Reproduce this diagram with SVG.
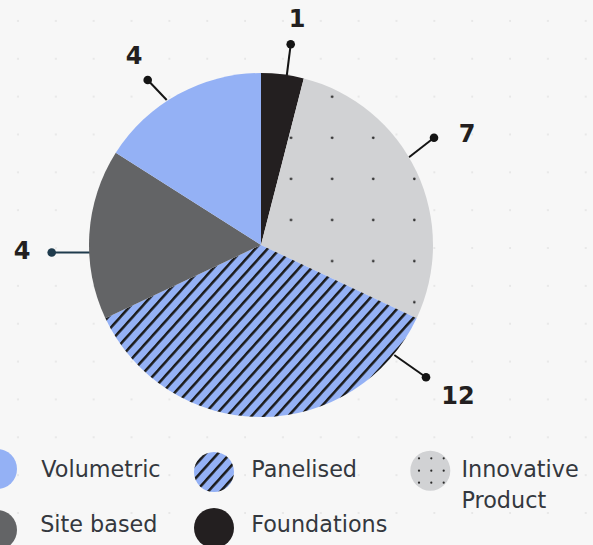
<svg xmlns="http://www.w3.org/2000/svg" width="593" height="545" viewBox="0 0 593 545">
  <defs>
    <pattern id="grid" patternUnits="userSpaceOnUse" x="0" y="0" width="37.85" height="37.85">
      <circle cx="18" cy="21" r="1" fill="#e3e3e3"/>
    </pattern>
    <pattern id="hatch" patternUnits="userSpaceOnUse" width="9.1" height="9.1" patternTransform="rotate(42)">
      <rect width="9.1" height="9.1" fill="#94b1f5"/>
      <rect x="0" y="0" width="2.5" height="9.1" fill="#1a1a1a"/>
    </pattern>
    <pattern id="dots" patternUnits="userSpaceOnUse" width="41.1" height="41.1">
      <rect width="41.1" height="41.1" fill="#d1d2d4"/>
      <circle cx="3.3" cy="14.5" r="1.3" fill="#2a2a2a"/>
    </pattern>
    <style>
      .num { font-family: "DejaVu Sans", "Liberation Sans", sans-serif; font-weight: bold; font-size: 24px; fill: #231f20; text-anchor: middle; }
      .leg { font-family: "DejaVu Sans", "Liberation Sans", sans-serif; font-size: 22.3px; fill: #34383e; }
      .lead { stroke: #141414; stroke-width: 2; fill: none; }
      .dot { fill: #141414; }
      .pd { fill: #2a2a2a; }
    </style>
  </defs>
  <rect width="593" height="545" fill="#f7f7f7"/>
  <rect width="593" height="545" fill="url(#grid)"/>

  <g id="connectors">
    <line class="lead" x1="286.7" y1="76" x2="290.7" y2="44.3"/>
    <circle class="dot" cx="290.7" cy="44.3" r="4.3"/>
    <line class="lead" x1="166.7" y1="100" x2="147.7" y2="80"/>
    <circle class="dot" cx="147.7" cy="80" r="4.3"/>
    <line class="lead" x1="409" y1="157.3" x2="434" y2="137.7"/>
    <circle class="dot" cx="434" cy="137.7" r="4.3"/>
    <line class="lead" x1="394.3" y1="355" x2="426" y2="377.3"/>
    <circle class="dot" cx="426" cy="377.3" r="4.3"/>
    <line x1="90" y1="252.5" x2="51.7" y2="252.5" stroke="#1f3b4d" stroke-width="2"/>
    <circle cx="51.7" cy="252.5" r="4.3" fill="#1f3b4d"/>
  </g>

  <g id="pie">
    <path id="slice-foundations" d="M261,245 L261,73 A172,172 0 0 1 303.77,78.40 Z" fill="#231f20"/>
    <path id="slice-innovative" d="M261,245 L303.77,78.40 A172,172 0 0 1 416.63,318.23 Z" fill="url(#dots)"/>
    <path id="slice-panelised" d="M261,245 L416.63,318.23 A172,172 0 0 1 105.37,318.23 Z" fill="url(#hatch)"/>
    <path id="slice-site" d="M261,245 L105.37,318.23 A172,172 0 0 1 115.78,152.84 Z" fill="#636466"/>
    <path id="slice-volumetric" d="M261,245 L115.78,152.84 A172,172 0 0 1 261,73 Z" fill="#94b1f5"/>
  </g>

  <g id="labels">
    <text class="num" x="297" y="27">1</text>
    <text class="num" x="134" y="64">4</text>
    <text class="num" x="467" y="141.7">7</text>
    <text class="num" x="458" y="404">12</text>
    <text class="num" x="22" y="259.3">4</text>
  </g>

  <g id="legend-volumetric">
    <circle cx="-3" cy="469" r="20" fill="#94b1f5"/>
    <text class="leg" x="41.3" y="476.5">Volumetric</text>
  </g>
  <g id="legend-panelised">
    <circle cx="214" cy="472" r="20" fill="url(#hatch)"/>
    <text class="leg" x="251.2" y="476.5">Panelised</text>
  </g>
  <g id="legend-innovative">
    <circle cx="430.3" cy="470.7" r="20" fill="#d1d2d4"/>
    <circle class="pd" cx="419" cy="458.3" r="1.1"/>
    <circle class="pd" cx="431.3" cy="458.3" r="1.1"/>
    <circle class="pd" cx="443.7" cy="458.3" r="1.1"/>
    <circle class="pd" cx="419" cy="470.7" r="1.1"/>
    <circle class="pd" cx="431.3" cy="470.7" r="1.1"/>
    <circle class="pd" cx="443.7" cy="470.7" r="1.1"/>
    <circle class="pd" cx="419" cy="482.7" r="1.1"/>
    <circle class="pd" cx="431.3" cy="482.7" r="1.1"/>
    <circle class="pd" cx="443.7" cy="482.7" r="1.1"/>
    <text class="leg" x="461.5" y="476.5">Innovative</text>
    <text class="leg" x="461.5" y="508.3">Product</text>
  </g>
  <g id="legend-site">
    <circle cx="-3" cy="530" r="20" fill="#636466"/>
    <text class="leg" x="40.2" y="531.5">Site based</text>
  </g>
  <g id="legend-foundations">
    <circle cx="214" cy="528" r="20" fill="#231f20"/>
    <text class="leg" x="251.2" y="531.5">Foundations</text>
  </g>
</svg>
